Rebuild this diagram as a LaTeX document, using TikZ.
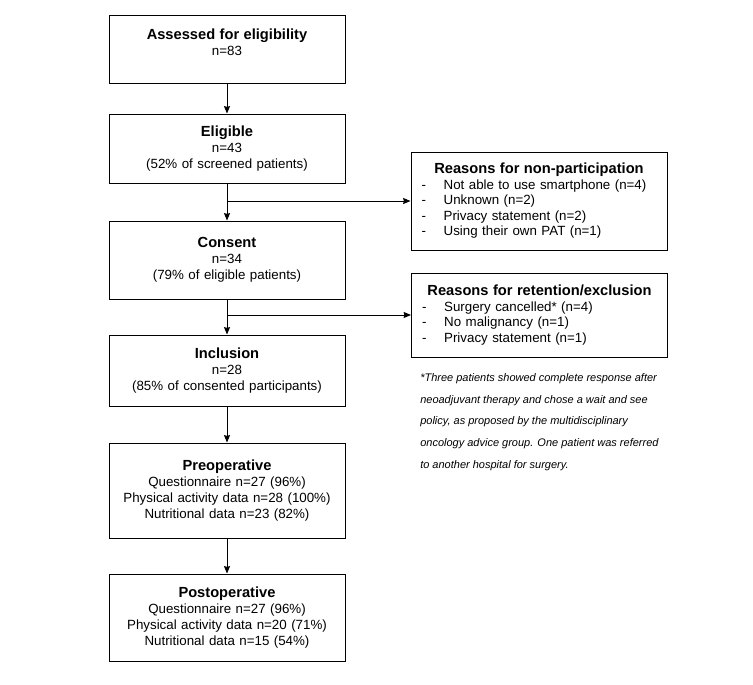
\documentclass[tikz,border=0pt]{standalone}
\usepackage{fontspec}
\setmainfont{Liberation Sans}
\usetikzlibrary{arrows.meta, positioning}
\newcommand{\boxtitle}[1]{{\fontsize{11}{13}\selectfont\bfseries #1}}
\newcommand{\reason}[1]{\makebox[16.5pt][l]{-}#1}
\tikzset{
    mainbox/.style={rectangle, draw=black, line width=0.75pt, minimum width=177pt, text width=170pt, align=center, inner sep=0pt, font=\fontsize{10}{12}\selectfont},
    sidebox/.style={rectangle, draw=black, line width=0.75pt, minimum width=192pt, text width=176pt, inner xsep=8pt, inner ysep=0pt, align=left, font=\fontsize{10}{11.6}\selectfont},
    notetext/.style={align=left, inner sep=0pt, font=\fontsize{8.25}{16.4}\selectfont\itshape},
}
\begin{document}
\begin{tikzpicture}[
    x=0.75pt, y=-0.75pt,
    arrow/.style={-{Stealth[length=5.5pt, width=4.5pt, inset=0.5pt]}, line width=0.75pt},
    arrowline/.style={line width=0.75pt}
]
\useasboundingbox (0,0) rectangle (753,685);

% main column
\node[mainbox, minimum height=51pt] (assessed) at (227,50) {\boxtitle{Assessed for eligibility}\\n=83\\~};
\node[mainbox, minimum height=51.75pt, below=21.75pt of assessed] (eligible) {\boxtitle{Eligible}\\n=43\\(52\% of screened patients)};
\node[mainbox, minimum height=58.5pt, below=27.75pt of eligible] (consent) {\boxtitle{Consent}\\n=34\\(79\% of eligible patients)};
\node[mainbox, minimum height=53.25pt, below=26.25pt of consent] (inclusion) {\boxtitle{Inclusion}\\n=28\\(85\% of consented participants)};
\node[mainbox, minimum height=71.25pt, below=27pt of inclusion] (preop) {\boxtitle{Preoperative}\\Questionnaire n=27 (96\%)\\Physical activity data n=28 (100\%)\\Nutritional data n=23 (82\%)};
\node[mainbox, minimum height=65.25pt, below=26.25pt of preop] (postop) {\boxtitle{Postoperative}\\Questionnaire n=27 (96\%)\\Physical activity data n=20 (71\%)\\Nutritional data n=15 (54\%)};

% side boxes
\node[sidebox, minimum height=73.5pt] (nonpart) at (539,201) {\makebox[176pt]{\boxtitle{Reasons for non-participation}}\\
    \reason{Not able to use smartphone (n=4)}\\
    \reason{Unknown (n=2)}\\
    \reason{Privacy statement (n=2)}\\
    \reason{Using their own PAT (n=1)}};
\node[sidebox, minimum height=63pt] (retention) at (539.5,315) {\makebox[176pt]{\boxtitle{Reasons for retention/exclusion}}\\
    \reason{Surgery cancelled* (n=4)}\\
    \reason{No malignancy (n=1)}\\
    \reason{Privacy statement (n=1)}};

\node[notetext, anchor=north west] (note) at (420,373) {*Three patients showed complete response after\\
    neoadjuvant therapy and chose a wait and see\\
    policy, as proposed by the multidisciplinary\\
    oncology advice group. One patient was referred\\
    to another hospital for surgery.};

% connectors
\coordinate (split1) at (eligible.south |- nonpart.west);
\coordinate (split2) at (consent.south |- retention.west);

\draw[arrow] (assessed) -- (eligible);
\draw[arrow] (eligible) -- (consent);
\draw[arrow] (consent) -- (inclusion);
\draw[arrow] (inclusion) -- (preop);
\draw[arrow] (preop) -- (postop);
\draw[arrow] (split1) -- (nonpart.west);
\draw[arrow] (split2) -- (retention.west);

\end{tikzpicture}
\end{document}
